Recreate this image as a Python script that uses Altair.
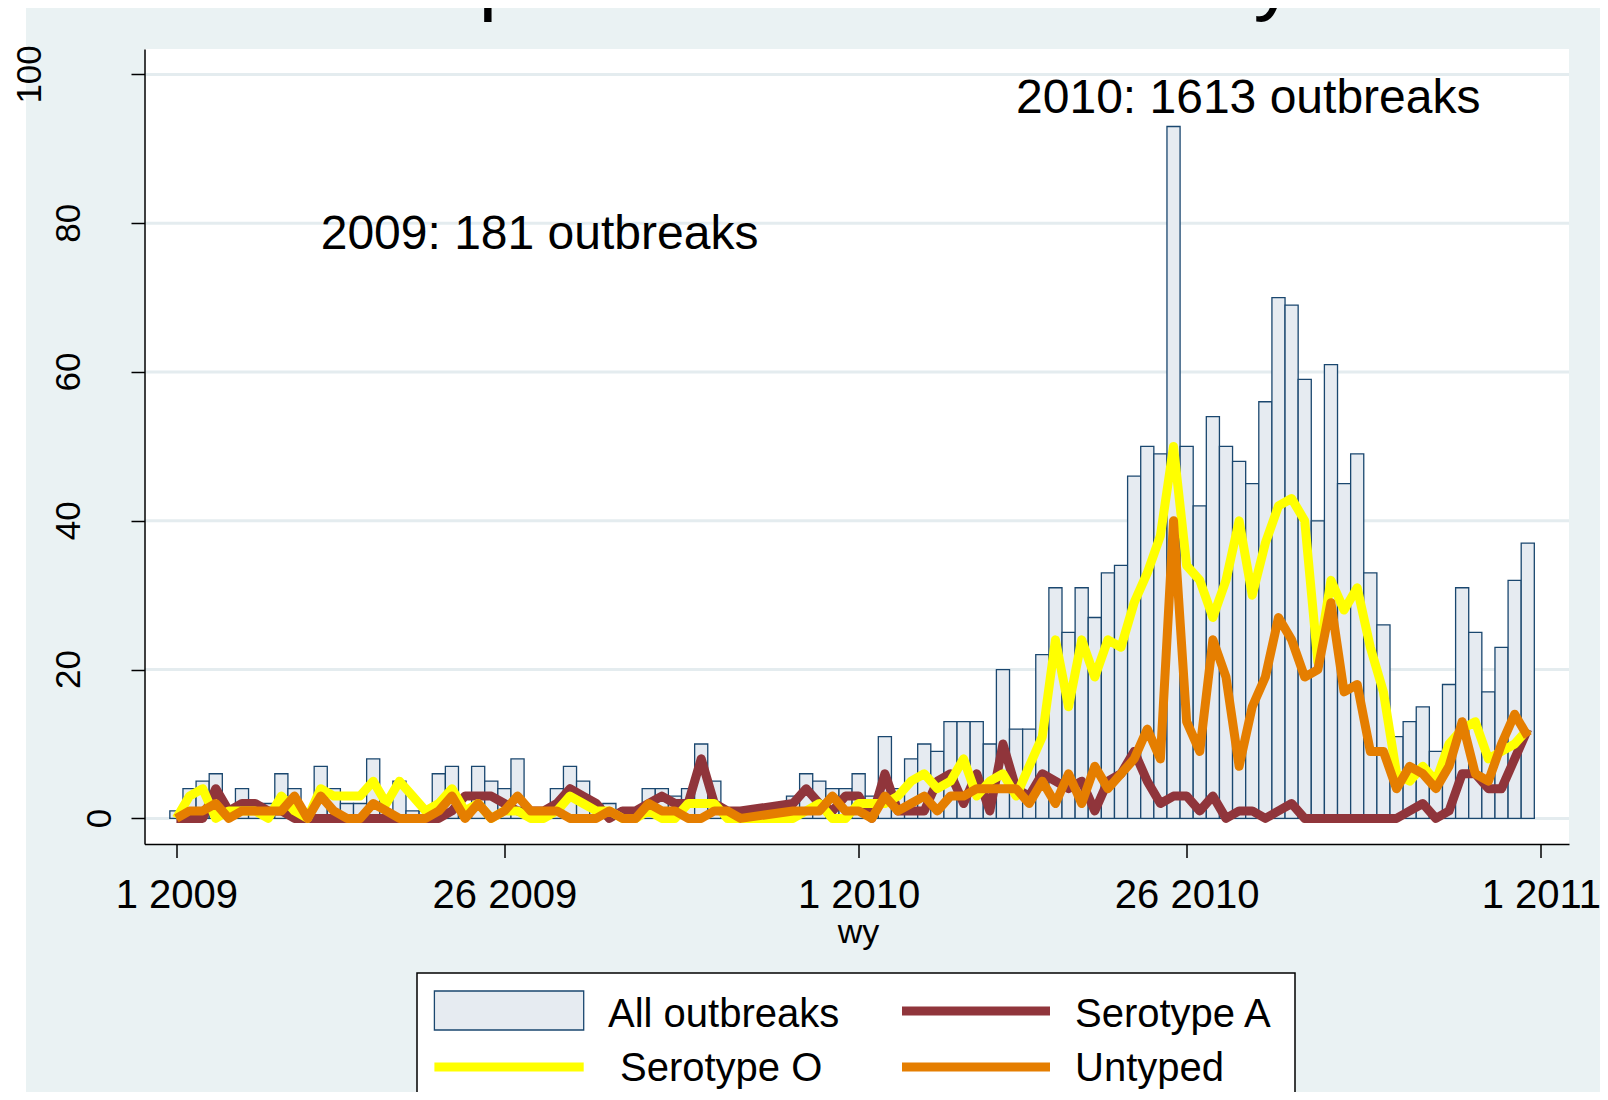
import altair as alt
import pandas as pd

# ---------------- data ----------------
x_tick_values = [0, 25, 52, 77, 104]
x_tick_labels = ["1 2009", "26 2009", "1 2010", "26 2010", "1 2011"]
y_tick_values = [0, 20, 40, 60, 80, 100]
series_names = ["All outbreaks", "Serotype A", "Serotype O", "Untyped"]
title_text = "Epidemic curve: Turkey"
x_title = "wy"
ann_labels = ["2009: 181 outbreaks", "2010: 1613 outbreaks"]
ann_x = [11, 64]
ann_y = [76.5, 94.8]

N = None
all_2009 = [1, 4, 5, 6, 1, 4, 1, 2, 6, 4,
            1, 7, 4, 2, 2, 8, 1, 5, 1, 1,
            6, 7, 1, 7, 5, 4, 8, 1, 1, 4,
            7, 5, 1, 2, 1, 1, 4, 4, 3, 4,
            10, 5, 1, 1, N, N, N, 3, 6, 5,
            4, 4]
all_2010 = [6, 3, 11, 4, 8, 10, 9, 13, 13, 13,
            10, 20, 12, 12, 22, 31, 25, 31, 27, 33,
            34, 46, 50, 49, 93, 50, 42, 54, 50, 48,
            45, 56, 70, 69, 59, 40, 61, 45, 49, 33,
            26, 11, 13, 15, 9, 18, 31, 25, 17, 23,
            32, 37]
a_2009 = [0, 0, 0, 4, 1, 2, 2, 1, 1, 0,
          0, 0, 0, 0, 0, 0, 0, 0, 0, 0,
          0, 1, 3, 3, 3, 2, 1, 1, 1, 2,
          4, 3, 2, 0, 1, 1, 2, 3, 2, 2,
          8, 2, 1, 1, N, N, N, 2, 4, 2,
          1, 3]
a_2010 = [3, 0, 6, 1, 1, 1, 5, 6, 2, 6,
          1, 10, 4, 3, 6, 5, 4, 5, 1, 5,
          6, 9, 5, 2, 3, 3, 1, 3, 0, 1,
          1, 0, 1, 2, 0, 0, 0, 0, 0, 0,
          0, 0, 1, 2, 0, 1, 6, 6, 4, 4,
          8, 12]
o_2009 = [0, 3, 4, 0, 1, 1, 1, 0, 3, 1,
          0, 4, 3, 3, 3, 5, 2, 5, 3, 1,
          2, 4, 1, 2, 0, 1, 1, 0, 0, 1,
          3, 2, 1, 1, 0, 0, 1, 0, 0, 2,
          2, 2, 0, 0, N, N, N, 0, 1, 2,
          0, 0]
o_2010 = [2, 2, 2, 3, 5, 6, 4, 5, 8, 3,
          5, 6, 3, 7, 11, 24, 15, 24, 19, 24,
          23, 29, 33, 38, 50, 34, 32, 27, 32, 40,
          30, 37, 42, 43, 40, 21, 32, 28, 31, 23,
          17, 6, 5, 7, 5, 10, 12, 13, 8, 9,
          10, 12]
u_2009 = [0, 1, 1, 2, 0, 1, 1, 1, 1, 3,
          0, 3, 1, 0, 0, 2, 1, 0, 0, 0,
          1, 3, 0, 2, 0, 1, 3, 1, 1, 1,
          0, 0, 0, 1, 0, 0, 2, 1, 1, 0,
          0, 1, 1, 0, N, N, N, 1, 1, 1,
          3, 1]
u_2010 = [1, 0, 3, 1, 2, 3, 1, 3, 3, 4,
          4, 4, 4, 2, 5, 2, 6, 2, 7, 4,
          6, 8, 12, 8, 40, 13, 9, 24, 19, 7,
          15, 19, 27, 24, 19, 20, 29, 17, 18, 9,
          9, 4, 7, 6, 4, 7, 13, 6, 5, 10,
          14, 11]

all_w = all_2009 + all_2010
df = pd.DataFrame({
    "t": list(range(len(all_w))),
    "all": all_w,
    "A": a_2009 + a_2010,
    "O": o_2009 + o_2010,
    "U": u_2009 + u_2010,
})

# ---------------- layout / style ----------------
FONT = "Liberation Sans"
BG = "#EAF2F3"
GRID = "#E4ECEF"
BAR_FILL = "#E6EBF1"
BAR_STROKE = "#1A476F"
COL_A = "#90353B"
COL_O = "#FFFF00"
COL_U = "#E57E00"
LW = 9

X0P, Y0P = 144.5, 49.0          # page position of plot area
W, H = 1424.5, 795.0
SVG_W, SVG_H = 1592, 1084
PX_WEEK, X_AT0 = 13.12, 176.4
PX_UNIT, Y_AT0 = 7.44, 818.4
xmin = -(X_AT0 - X0P) / PX_WEEK
xmax = xmin + W / PX_WEEK
ymin = -((Y0P + H) - Y_AT0) / PX_UNIT
ymax = ymin + H / PX_UNIT


def P(x):
    return x - X0P


def Q(y):
    return y - Y0P


xscale = alt.Scale(domain=[xmin, xmax], nice=False, zero=False)
yscale = alt.Scale(domain=[ymin, ymax], nice=False, zero=False)

lab_expr = "[" + ",".join("'%s'" % s for s in x_tick_labels) + "][indexof([" + \
    ",".join(str(v) for v in x_tick_values) + "], datum.value)]"

xaxis = alt.Axis(values=x_tick_values, labelExpr=lab_expr, title=None, grid=False,
                 tickSize=13.5, tickWidth=1.5, tickColor="black",
                 domainColor="black", domainWidth=1.5,
                 labelFont=FONT, labelFontSize=40, labelColor="black",
                 labelPadding=50, labelBaseline="alphabetic", labelAlign="center",
                 labelFlush=False, labelOverlap=False, zindex=1)
yaxis = alt.Axis(values=y_tick_values, labels=False, title=None, grid=False,
                 tickSize=13.5, tickWidth=1.5, tickColor="black",
                 domainColor="black", domainWidth=1.5, zindex=1)


def X(f):
    return alt.X(f, type="quantitative", scale=xscale, axis=xaxis)


def Y(f):
    return alt.Y(f, type="quantitative", scale=yscale, axis=yaxis)


one = alt.Data(values=[{"k": 0}])


def vrect(x1, x2, y1, y2, **kw):
    return alt.Chart(one).mark_rect(**kw).encode(
        x=alt.value(P(x1)), x2=alt.value(P(x2)), y=alt.value(Q(y1)), y2=alt.value(Q(y2)))


def vtext(text, x, y, **kw):
    return alt.Chart(one).mark_text(text=text, **kw).encode(
        x=alt.value(P(x)), y=alt.value(Q(y)))


def vline(x1, x2, y, color, w):
    return alt.Chart(one).mark_rule(color=color, strokeWidth=w).encode(
        x=alt.value(P(x1)), x2=alt.value(P(x2)), y=alt.value(Q(y)))


layers = []
# graph region and plot region
layers.append(vrect(26, SVG_W + 8, 8, SVG_H + 8, color=BG))
layers.append(alt.Chart(one).mark_rect(color="white").encode(
    x=alt.value(0), x2=alt.value(W), y=alt.value(0), y2=alt.value(H)))

# gridlines
layers.append(alt.Chart(pd.DataFrame({"v": y_tick_values})).mark_rule(
    color=GRID, strokeWidth=3).encode(y=Y("v"), x=alt.value(0), x2=alt.value(W)))

# bars
layers.append(alt.Chart(df).transform_filter("isValid(datum.all) && datum.all > 0")
              .transform_calculate(x0="datum.t - 0.5", x1="datum.t + 0.5")
              .mark_rect(fill=BAR_FILL, stroke=BAR_STROKE, strokeWidth=1.3)
              .encode(x=X("x0"), x2="x1:Q", y=Y("all"), y2=alt.datum(0)))

# lines
for col, color in [("A", COL_A), ("O", COL_O), ("U", COL_U)]:
    layers.append(alt.Chart(df).transform_filter("isValid(datum.%s)" % col)
                  .mark_line(color=color, strokeWidth=LW, strokeJoin="round", strokeCap="butt")
                  .encode(x=X("t"), y=Y(col)))

# annotations
ann_df = pd.DataFrame({"x": ann_x, "y": ann_y, "label": ann_labels})
layers.append(alt.Chart(ann_df).mark_text(align="left", baseline="alphabetic",
                                          font=FONT, fontSize=48, color="black")
              .encode(x=X("x"), y=Y("y"), text="label:N"))

# y tick labels (rotated)
ylab = pd.DataFrame({"v": y_tick_values, "lab": [str(v) for v in y_tick_values]})
for cond, xp in [("datum.v == 0", 111), ("datum.v > 0 && datum.v < 100", 80), ("datum.v == 100", 41)]:
    layers.append(alt.Chart(ylab).transform_filter(cond)
                  .mark_text(angle=270, align="center", baseline="alphabetic",
                             font=FONT, fontSize=35, color="black")
                  .encode(y=Y("v"), x=alt.value(P(xp)), text="lab:N"))

# x axis title
layers.append(vtext(x_title, 858.6, 943, font=FONT, fontSize=34, align="center",
                    baseline="alphabetic", color="black"))

# legend
layers.append(vrect(417, 1295, 973, 1200, fill="white", stroke="black", strokeWidth=1.5))
layers.append(vrect(434.4, 583.7, 991, 1030, fill=BAR_FILL, stroke=BAR_STROKE, strokeWidth=1.3))
layers.append(vline(902, 1050, 1011, COL_A, LW))
layers.append(vline(434.4, 583.7, 1067, COL_O, LW))
layers.append(vline(902, 1050, 1067, COL_U, LW))
leg_pos = [(608, 1027), (1075, 1027), (620, 1081), (1075, 1081)]
for name, (lx, ly) in zip(series_names, leg_pos):
    layers.append(vtext(name, lx, ly, font=FONT, fontSize=40, align="left",
                        baseline="alphabetic", color="black"))

# title (largely above the page edge, as in the reference)
layers.append(vtext(title_text, 859, 5, font=FONT, fontSize=84, align="center",
                    baseline="alphabetic", color="black"))

chart = alt.layer(*layers).properties(
    width=W, height=H,
    padding={"left": X0P - 8, "top": Y0P - 8,
             "right": SVG_W - (X0P - 8) - W, "bottom": SVG_H - (Y0P - 8) - H},
    autosize=alt.AutoSizeParams(type="none"),
    background="white",
).configure_view(stroke=None)

chart.save("out.html", embed_options={"renderer": "svg", "actions": False})
